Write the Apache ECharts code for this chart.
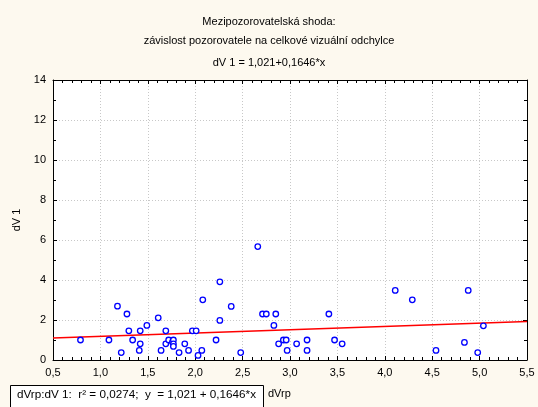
<!DOCTYPE html>
<html>
<head>
<meta charset="utf-8">
<script src="https://cdn.jsdelivr.net/npm/echarts@6/dist/echarts.min.js"></script>
<style>
html,body{margin:0;padding:0;background:#FDF9EF;}
#c{width:538px;height:407px;}
</style>
</head>
<body>
<div id="c"></div>
<script>
// Data
const dVrp = [0.79,1.09,1.18,1.22,1.28,1.30,1.34,1.41,1.42,1.42,1.49,1.61,1.64,1.69,1.69,1.72,1.76,1.77,1.77,1.77,1.83,1.89,1.93,1.97,2.01,2.03,2.07,2.08,2.22,2.26,2.26,2.38,2.48,2.66,2.71,2.75,2.83,2.85,2.88,2.93,2.96,2.97,3.07,3.18,3.18,3.41,3.47,3.55,4.11,4.29,4.54,4.84,4.88,4.98,5.04];
const dV1 = [1.00,1.00,2.69,0.37,2.30,1.46,1.00,0.48,1.46,0.81,1.73,2.11,0.48,1.46,0.81,1.00,0.90,1.00,0.81,0.68,0.37,0.81,0.48,1.46,1.46,0.23,0.48,3.01,1.00,3.91,1.98,2.68,0.37,5.67,2.30,2.30,1.73,2.30,0.81,1.00,1.00,0.48,0.81,1.00,0.48,2.30,1.00,0.81,3.48,3.01,0.48,0.88,3.48,0.37,1.71];
const fitX = [0.5, 5.5];
const fitY = [1.10, 1.93];
const xTicks = {min:0.5, max:5.5, step:0.5};
const yTicks = {min:0, max:14, step:2};
const titles = ["Mezipozorovatelská shoda:", "závislost pozorovatele na celkové vizuální odchylce", "dV 1 = 1,021+0,1646*x"];
const legendText = "dVrp:dV 1:  r² = 0,0274;  y  = 1,021 + 0,1646*x";

const font = "Liberation Sans, Arial, sans-serif";
const chart = echarts.init(document.getElementById('c'), null, {renderer:'canvas'});
const fmtX = v => v.toFixed(1).replace('.', ',');

const baseX = {
  type:'value', min:xTicks.min, max:xTicks.max, interval:xTicks.step,
  axisLine:{show:true, onZero:false, lineStyle:{color:'#000', width:1}},
  axisTick:{show:true, inside:true, length:4, lineStyle:{color:'#000'}},
  minorTick:{show:true, splitNumber:5, length:3, lineStyle:{color:'#000'}},
};
const baseY = {
  type:'value', min:yTicks.min, max:yTicks.max, interval:yTicks.step,
  axisLine:{show:true, onZero:false, lineStyle:{color:'#000', width:1}},
  axisTick:{show:true, inside:true, length:4, lineStyle:{color:'#000'}},
  minorTick:{show:true, splitNumber:2, length:3, lineStyle:{color:'#000'}},
};

chart.setOption({
  backgroundColor:'#FDF9EF',
  animation:false,
  title:[
    {text:titles[0], left:'center', top:11, textStyle:{fontFamily:font, fontSize:11, fontWeight:'normal', color:'#000'}},
    {text:titles[1], left:'center', top:30, textStyle:{fontFamily:font, fontSize:11, fontWeight:'normal', color:'#000'}},
    {text:titles[2], left:'center', top:52, textStyle:{fontFamily:font, fontSize:11, fontWeight:'normal', color:'#000'}}
  ],
  grid:{left:53, right:11, top:80, bottom:47, backgroundColor:'#fff', show:true, borderWidth:0},
  xAxis:[
    Object.assign({}, baseX, {
      position:'bottom',
      axisLabel:{formatter:fmtX, fontFamily:font, fontSize:11, color:'#000', margin:7},
      splitLine:{show:true, lineStyle:{color:'#c8c8c8', type:[1,2], width:1}}
    }),
    Object.assign({}, baseX, {position:'top', axisLabel:{show:false}, splitLine:{show:false}})
  ],
  yAxis:[
    Object.assign({}, baseY, {
      position:'left', name:'dV 1', nameLocation:'middle', nameGap:27, nameRotate:90,
      nameTextStyle:{fontFamily:font, fontSize:11, color:'#000'},
      axisLabel:{fontFamily:font, fontSize:11, color:'#000', margin:7},
      splitLine:{show:true, lineStyle:{color:'#c8c8c8', type:[1,2], width:1}}
    }),
    Object.assign({}, baseY, {position:'right', axisLabel:{show:false}, splitLine:{show:false}})
  ],
  series:[
    {
      type:'line', xAxisIndex:0, yAxisIndex:0,
      data:fitX.map((x,i)=>[x, fitY[i]]),
      symbol:'none', lineStyle:{color:'#FF0000', width:1.5}, z:3
    },
    {
      type:'scatter', xAxisIndex:0, yAxisIndex:0,
      data:dVrp.map((x,i)=>[x, dV1[i]]),
      symbol:'circle', symbolSize:5.5,
      itemStyle:{color:'#ffffff', borderColor:'#0000FF', borderWidth:1.3, opacity:1}, z:4
    }
  ],
  graphic:[
    {type:'rect', left:10, top:385, shape:{width:253, height:30},
     style:{fill:'#fff', stroke:'#000', lineWidth:1}},
    {type:'text', left:17, top:389,
     style:{text:legendText, fontFamily:font, fontSize:11.7, fill:'#000'}},
    {type:'text', left:268, top:388,
     style:{text:'dVrp', fontFamily:font, fontSize:11, fill:'#000'}}
  ]
});
</script>
</body>
</html>
